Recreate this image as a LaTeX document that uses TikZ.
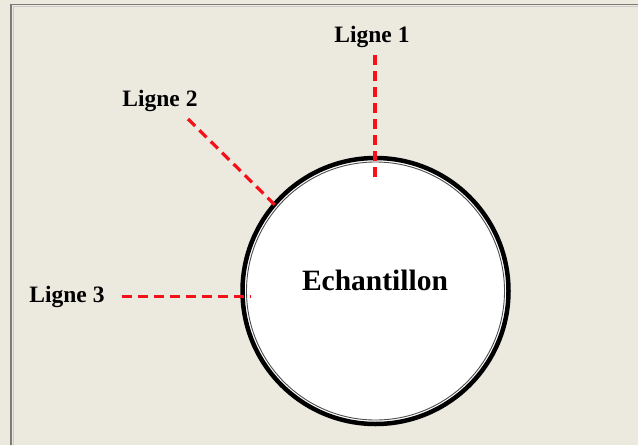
\documentclass[tikz,border=0pt]{standalone}
\usepackage{fontspec}
\setmainfont{Liberation Serif}
\definecolor{bgc}{HTML}{ECE9DF}
\definecolor{framec}{HTML}{7A7A7A}
\definecolor{redl}{HTML}{F5101A}
\begin{document}
\begin{tikzpicture}[x=1pt,y=-1pt,
  lbl/.style={font=\fontsize{23.5}{26}\selectfont\bfseries, inner sep=0pt},
  probe/.style={draw=redl, line width=3.2pt, dash pattern=on 10pt off 6pt}]
\useasboundingbox (0,0) rectangle (638,445);
\fill[bgc] (0,0) rectangle (638,445);
\draw[framec, line width=1.2pt] (11,445) -- (11,4.5) -- (638,4.5);
\draw[framec!40, line width=0.8pt] (13.5,445) -- (13.5,6.5) -- (638,6.5);
% sample
\coordinate (c) at (375.5,291);
\fill[white] (c) circle[radius=133];
\draw[black, line width=4.5pt] (c) circle[radius=133];
\draw[black!70, line width=0.9pt] (c) circle[radius=129];
\node[font=\fontsize{29.5}{32}\selectfont\bfseries, inner sep=0pt] (ech) at (375,280) {Echantillon};
% labels
\node[lbl] (l1) at (372,37) {Ligne 1};
\node[lbl] (l2) at (160,101) {Ligne 2};
\node[lbl] (l3) at (67,297) {Ligne 3};
% probe lines
\coordinate (a1) at (375,55);
\coordinate (b1) at (375,180);
\coordinate (a2) at (188,119);
\coordinate (b2) at (279,209);
\coordinate (a3) at (122,296.5);
\coordinate (b3) at (251,296.5);
\draw[probe] (a1) -- (b1);
\draw[probe] (a2) -- (b2);
\draw[probe] (a3) -- (b3);
\end{tikzpicture}
\end{document}
